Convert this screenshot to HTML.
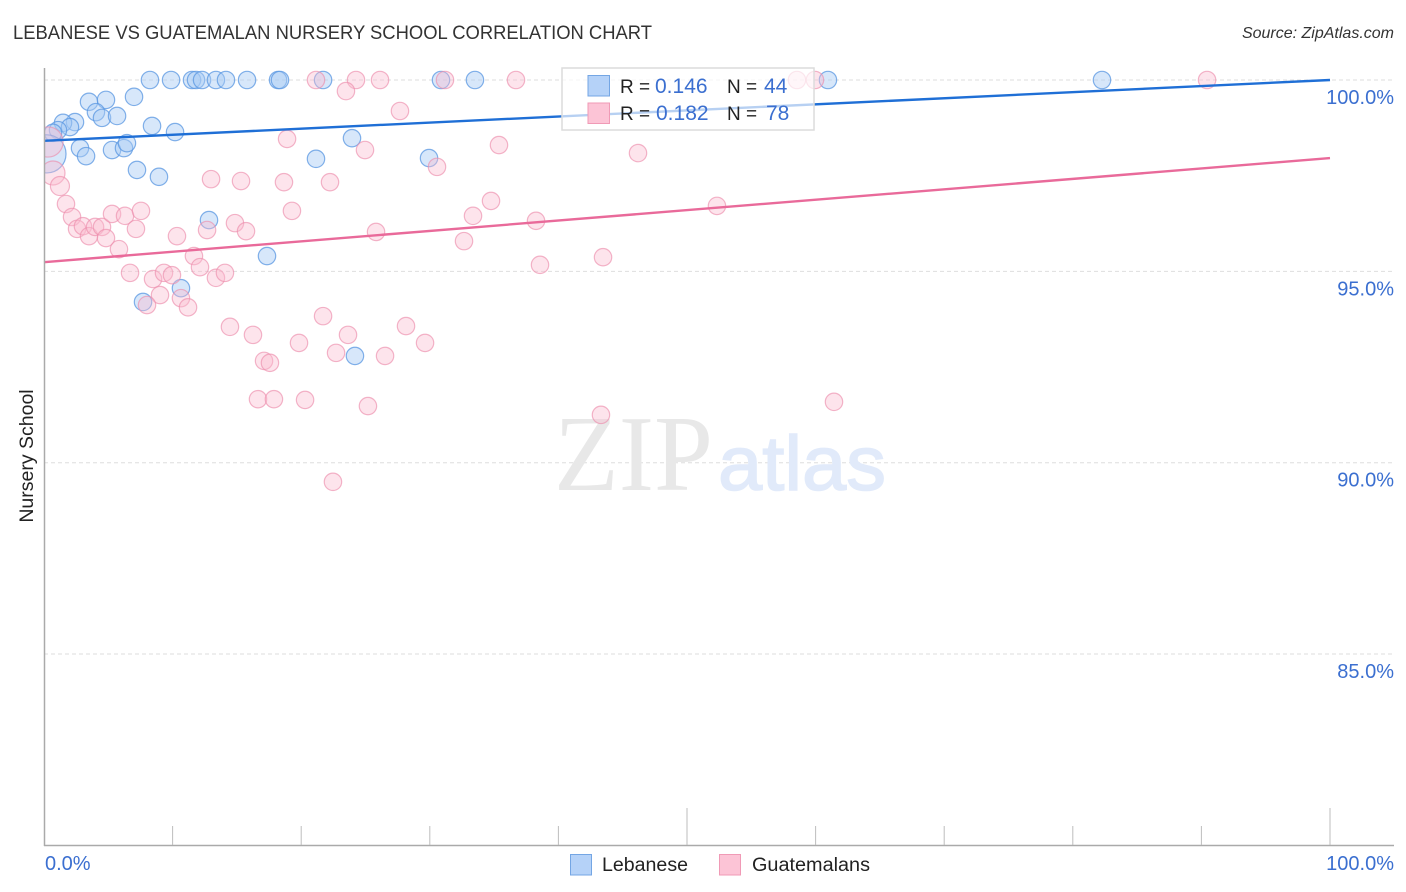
<!DOCTYPE html>
<html lang="en">
<head>
<meta charset="utf-8">
<title>Lebanese vs Guatemalan Nursery School Correlation Chart</title>
<style>
html,body{margin:0;padding:0;background:#fff;}
body{width:1406px;height:892px;overflow:hidden;}
svg{display:block;font-family:"Liberation Sans",sans-serif;}
</style>
</head>
<body>
<svg id="chart" xmlns="http://www.w3.org/2000/svg" width="1406" height="892" viewBox="0 0 1406 892">
  <defs><clipPath id="plot-clip"><rect x="45" y="60" width="1349" height="785"/></clipPath></defs>
  <text x="13" y="39" font-size="19" fill="#333" textLength="639" lengthAdjust="spacingAndGlyphs">LEBANESE VS GUATEMALAN NURSERY SCHOOL CORRELATION CHART</text>
  <text x="1394" y="38" font-size="16" font-style="italic" fill="#333" text-anchor="end">Source: ZipAtlas.com</text>
  <g id="grid"></g>
  <g>
    <text x="554" y="490" font-family="'Liberation Serif',serif" font-size="108" fill="#e8e8e8" textLength="159" lengthAdjust="spacingAndGlyphs">ZIP</text>
    <text x="718" y="490" font-size="77" fill="#e1eafa" stroke="#e1eafa" stroke-width="1.5" textLength="168" lengthAdjust="spacingAndGlyphs">atlas</text>
  </g>
  <g id="points" clip-path="url(#plot-clip)"></g>
  <g id="trends"></g>
  <g id="axes"></g>
  <text transform="translate(33,456) rotate(-90)" font-size="19.500" fill="#222" text-anchor="middle">Nursery School</text>

  <g>
    <rect x="562" y="68" width="252" height="62" fill="#fff" fill-opacity="0.68" stroke="#dcdcdc" stroke-width="1.5"/>
    <rect x="588" y="75.500" width="21.500" height="20.500" fill="#b5d2f8" stroke="#74a6e4" stroke-width="1"/>
    <rect x="588" y="103" width="21.500" height="20.500" fill="#fcc4d6" stroke="#f09ab6" stroke-width="1"/>
    <text x="620" y="93" font-size="19" fill="#222">R =</text>
    <text x="655" y="93" font-size="21" fill="#3b6fd0">0.146</text>
    <text x="727" y="93" font-size="19" fill="#222">N =</text>
    <text x="764" y="93" font-size="21" fill="#3b6fd0">44</text>
    <text x="620" y="120" font-size="19" fill="#222">R =</text>
    <text x="656" y="120" font-size="21" fill="#3b6fd0">0.182</text>
    <text x="727" y="120" font-size="19" fill="#222">N =</text>
    <text x="766" y="120" font-size="21" fill="#3b6fd0">78</text>
  </g>

  <g>
    <rect x="570.500" y="854.500" width="21" height="20.500" fill="#b5d2f8" stroke="#74a6e4" stroke-width="1"/>
    <text x="602" y="871" font-size="19" fill="#222" textLength="86" lengthAdjust="spacingAndGlyphs">Lebanese</text>
    <rect x="719.500" y="854.500" width="21" height="20.500" fill="#fcc4d6" stroke="#f09ab6" stroke-width="1"/>
    <text x="752" y="871" font-size="19" fill="#222" textLength="118" lengthAdjust="spacingAndGlyphs">Guatemalans</text>
  </g>
</svg>
<script>
const yTickValues = [100, 95, 90, 85];
const yTickLabels = ["100.0%", "95.0%", "90.0%", "85.0%"];
const xTickValues = [10, 20, 30, 40, 50, 60, 70, 80, 90, 100];
const xMajorTicks = [50, 100];
const xEndLabels = ["0.0%", "100.0%"];

const lebaneseX = [8.24,9.88,11.51,11.82,12.29,13.37,14.15,15.79,18.2,18.35,21.7,30.87,33.51,60.96,82.27,
  3.5,4.82,7.0,4.04,4.51,5.68,2.41,1.48,2.02,1.09,0.7,8.4,10.19,2.8,3.27,5.29,6.22,6.45,7.23,8.94,0.23,
  12.83,17.34,21.15,23.95,29.94,10.65,7.7,24.18];
const lebaneseY = [100,100,100,100,100,100,100,100,100,100,100,100,100,100,100,
  99.43,99.48,99.56,99.16,99.01,99.06,98.9,98.88,98.77,98.69,98.62,98.8,98.64,98.22,98.01,98.17,98.22,98.35,97.65,97.47,98.07,
  96.34,95.4,97.94,98.48,97.96,94.56,94.2,92.79];
const lebaneseWeight = [1,1,1,1,1,1,1,1,1,1,1,1,1,1,1,
  1,1,1,1,1,1,1,1,1,1,1,1,1,1,1,1,1,1,1,1,4.8,
  1,1,1,1,1,1,1,1];

const guatemalanX = [1.71,2.18,2.57,3.03,3.5,3.97,4.51,4.82,5.29,6.3,7.54,7.15,5.83,6.69,8.48,9.33,9.95,9.02,10.65,11.2,8.01,10.34,12.68,11.66,12.13,13.37,14.07,14.85,15.71,12.99,15.32,18.66,22.24,19.28,18.9,21.15,
  0.31,0.7,1.24,24.26,26.13,31.18,36.7,58.55,59.95,90.44,
  23.48,27.68,24.96,35.38,46.19,30.56,34.76,33.36,38.26,25.82,32.66,52.33,43.47,38.57,
  21.7,14.46,16.25,23.64,28.15,19.83,29.63,22.71,26.52,17.11,17.57,16.64,17.88,20.3,25.19,43.31,61.43,22.47];
const guatemalanY = [96.76,96.42,96.11,96.18,95.92,96.16,96.16,95.87,96.5,96.45,96.58,96.11,95.58,94.96,94.8,94.96,94.9,94.38,94.3,94.06,94.12,95.92,96.08,95.4,95.11,94.83,94.96,96.26,96.05,97.41,97.36,97.33,97.33,96.58,98.46,100,
  98.38,97.57,97.23,100,100,100,100,100,100,100,
  99.71,99.19,98.17,98.3,98.09,97.73,96.84,96.45,96.32,96.03,95.79,96.71,95.37,95.17,
  93.83,93.55,93.34,93.34,93.57,93.13,93.13,92.87,92.79,92.66,92.61,91.66,91.66,91.64,91.48,91.25,91.59,89.5];
const guatemalanWeight = [1,1,1,1,1,1,1,1,1,1,1,1,1,1,1,1,1,1,1,1,1,1,1,1,1,1,1,1,1,1,1,1,1,1,1,1,
  3,1.9,1.2,1,1,1,1,1,1,1,
  1,1,1,1,1,1,1,1,1,1,1,1,1,1,
  1,1,1,1,1,1,1,1,1,1,1,1,1,1,1,1,1,1];

const lebaneseTrend = [98.41, 100];
const guatemalanTrend = [95.24, 97.96];
const trendX = [0, 100];

const NS = "http://www.w3.org/2000/svg";
function xScale(v) { return 44 + v * 12.86; }
function yScale(v) { return 80 + (100 - v) * 38.27; }
function radius(w) { return 8.7 * Math.sqrt(w); }
function make(tag, attrs, parent) {
  const el = document.createElementNS(NS, tag);
  for (const k in attrs) el.setAttribute(k, attrs[k]);
  parent.appendChild(el);
  return el;
}

const grid = document.getElementById("grid");
const axes = document.getElementById("axes");
const pointsLayer = document.getElementById("points");
const trends = document.getElementById("trends");

yTickValues.forEach(function (v, i) {
  const line = make("line", {x1: 44, x2: 1394, y1: yScale(v), y2: yScale(v), stroke: "#dedede", "stroke-width": 1, "stroke-dasharray": "4 3"}, grid);
  
  
  const label = make("text", {x: 1394, y: yScale(v) + 24, "font-size": 20, fill: "#3b6fd0", "text-anchor": "end"}, axes);
  label.textContent = yTickLabels[i];
  
  
});

const yAxis = make("line", {x1: 44.5, x2: 44.5, y1: 68, y2: 846, stroke: "#aaaaaa", "stroke-width": 1.5}, axes);


const xAxis = make("line", {x1: 44, x2: 1394, y1: 845.5, y2: 845.5, stroke: "#aaaaaa", "stroke-width": 1.5}, axes);



xTickValues.forEach(function (v) {
  const top = xMajorTicks.indexOf(v) >= 0 ? 808 : 826;
  const tick = make("line", {x1: xScale(v), x2: xScale(v), y1: top, y2: 845, stroke: "#bdbdbd", "stroke-width": 1}, axes);
  
  
});

const xLabelStart = make("text", {x: 45, y: 870, "font-size": 20, fill: "#3b6fd0"}, axes);
xLabelStart.textContent = xEndLabels[0];


const xLabelEnd = make("text", {x: 1394, y: 870, "font-size": 20, fill: "#3b6fd0", "text-anchor": "end"}, axes);
xLabelEnd.textContent = xEndLabels[1];



lebaneseX.forEach(function (v, i) {
  const dot = make("circle", {cx: xScale(v), cy: yScale(lebaneseY[i]), r: radius(lebaneseWeight[i]), fill: "#a6caf5", "fill-opacity": 0.45, stroke: "#5a97e2", "stroke-opacity": 0.75, "stroke-width": 1.2}, pointsLayer);
  
  
});
guatemalanX.forEach(function (v, i) {
  const dot = make("circle", {cx: xScale(v), cy: yScale(guatemalanY[i]), r: radius(guatemalanWeight[i]), fill: "#f9bccf", "fill-opacity": 0.4, stroke: "#ec8dac", "stroke-opacity": 0.65, "stroke-width": 1.2}, pointsLayer);
  
  
});

const lebaneseLine = make("line", {x1: xScale(trendX[0]), y1: yScale(lebaneseTrend[0]), x2: xScale(trendX[1]), y2: yScale(lebaneseTrend[1]), stroke: "#1f6fd6", "stroke-width": 2.4}, trends);


const guatemalanLine = make("line", {x1: xScale(trendX[0]), y1: yScale(guatemalanTrend[0]), x2: xScale(trendX[1]), y2: yScale(guatemalanTrend[1]), stroke: "#e96a9a", "stroke-width": 2.4}, trends);


</script>
</body>
</html>
